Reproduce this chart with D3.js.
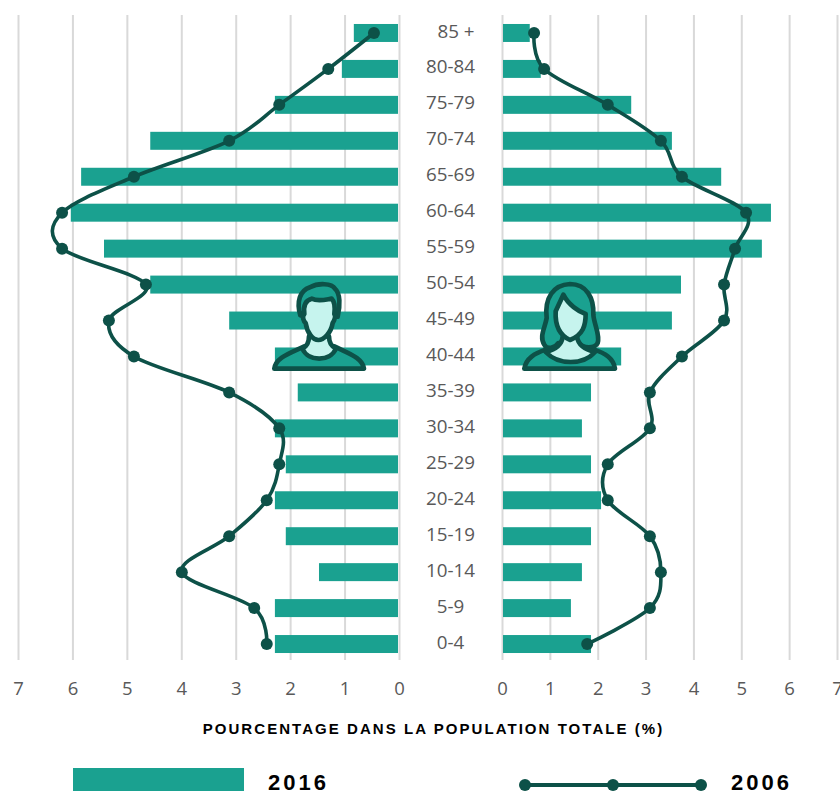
<!DOCTYPE html>
<html><head><meta charset="utf-8">
<script src="https://cdn.jsdelivr.net/npm/d3@7/dist/d3.min.js"></script>
<style>html,body{margin:0;padding:0;background:#fff;overflow:hidden}svg{display:block}text{font-family:"Open Sans","Noto Sans",sans-serif}</style>
</head><body><svg id="c" width="840" height="791"></svg>
<script>
const ages=["85 +","80-84","75-79","70-74","65-69","60-64","55-59","50-54","45-49","40-44","35-39","30-34","25-29","20-24","15-19","10-14","5-9","0-4"];
const men2016=[0.83,1.05,2.28,4.57,5.84,6.03,5.42,4.57,3.12,2.28,1.86,2.28,2.08,2.28,2.08,1.47,2.28,2.28];
const men2006=[0.46,1.30,2.20,3.12,4.87,6.19,6.19,4.65,5.33,4.87,3.12,2.20,2.20,2.43,3.12,3.99,2.66,2.43];
const women2016=[0.58,0.81,2.70,3.55,4.58,5.62,5.43,3.74,3.55,2.49,1.86,1.67,1.86,2.07,1.86,1.67,1.44,1.86];
const women2006=[0.67,0.88,2.21,3.32,3.76,5.10,4.87,4.64,4.64,3.76,3.09,3.09,2.21,2.21,3.09,3.32,3.09,1.78];
const ticks=[0,1,2,3,4,5,6,7];
const axisTitle="POURCENTAGE DANS LA POPULATION TOTALE (%)";
const legendLabels=["2016","2006"];

const BAR="#1aa190",LINE="#0d5148",GRID="#d9d9d9",LIGHT="#c6f4ee",TXT="#595959";
const svg=d3.select("#c");
const y=d3.scaleBand().domain(ages).range([15,662]).paddingInner(.5).paddingOuter(.25);
const yc=a=>y(a)+y.bandwidth()/2;
const xL=d3.scaleLinear().domain([0,7]).range([399,18]);
const xR=d3.scaleLinear().domain([0,7]).range([502,837]);

function axis(scale){
  const g=svg.append("g").attr("transform","translate(0,660)")
    .call(d3.axisBottom(scale).tickValues(ticks).tickSize(645).tickSizeOuter(0).tickFormat(d3.format("d")));
  g.select(".domain").remove();
  g.selectAll(".tick line").attr("y1",-645).attr("y2",0).attr("stroke",GRID).attr("stroke-width",2);
  g.selectAll(".tick text").attr("y",29).attr("dy",".32em").attr("fill",TXT).attr("font-size",18.5).attr("font-family",'"Open Sans",sans-serif');
}
axis(xL);axis(xR);

svg.append("g").selectAll("rect").data(ages).join("rect")
  .attr("x",(d,i)=>xL(men2016[i])).attr("y",d=>y(d)).attr("height",y.bandwidth())
  .attr("width",(d,i)=>xL(0)-1-xL(men2016[i])).attr("fill",BAR);
svg.append("g").selectAll("rect").data(ages).join("rect")
  .attr("x",xR(0)+1).attr("y",d=>y(d)).attr("height",y.bandwidth())
  .attr("width",(d,i)=>xR(women2016[i])-xR(0)-1).attr("fill",BAR);

svg.append("g").selectAll("text").data(ages).join("text")
  .attr("x",d=>d==="85 +"?456:450.5).attr("y",d=>yc(d)-2).attr("dy",".35em").attr("text-anchor","middle")
  .attr("fill",TXT).attr("font-size",18.8).text(d=>d);

function series(vals,scale){
  const line=d3.line().x(d=>scale(d[1])).y(d=>yc(d[0])).curve(d3.curveCatmullRom.alpha(0));
  const pts=ages.map((a,i)=>[a,vals[i]]);
  svg.append("path").attr("d",line(pts)).attr("fill","none").attr("stroke",LINE).attr("stroke-width",3.6);
  svg.append("g").selectAll("circle").data(pts).join("circle")
    .attr("cx",d=>scale(d[1])).attr("cy",d=>yc(d[0])).attr("r",6).attr("fill",LINE);
}

function icon(tx,paths){
  const g=svg.append("g").attr("transform",`translate(${tx},278) scale(${1/3})`)
    .attr("stroke",LINE).attr("stroke-width",14).attr("stroke-linejoin","round");
  paths.forEach(([d,f])=>g.append("path").attr("d",d).attr("fill",f));
}
icon(265,[
 ["M28,272C33,238 75,226 118,205L208,205C250,226 292,238 297,272Z",BAR],
 ["M112,212C125,206 132,196 132,175L192,175C192,196 200,206 213,212C195,252 130,252 112,212Z",LIGHT],
 ["M106,112C94,72 104,38 135,28C160,14 200,16 210,32C226,46 226,82 218,116C205,90 120,90 106,112Z",BAR],
 ["M118,108C114,78 124,66 140,62C160,72 185,64 200,62C210,72 210,92 208,108C214,116 206,130 203,135C198,165 176,186 160,186C144,186 126,165 122,135C116,130 110,116 118,108Z",LIGHT]
]);
icon(515,[
 ["M95,120C88,60 115,20 165,18C215,18 237,60 235,110C237,140 256,170 248,195C240,212 205,212 190,195L130,195C120,212 95,215 88,200C72,175 90,150 95,120Z",BAR],
 ["M28,272C33,240 60,226 92,215L238,215C270,226 295,240 300,272Z",BAR],
 ["M92,222C115,216 140,205 143,176L186,176C190,205 215,216 240,222C205,262 130,262 92,222Z",LIGHT],
 ["M122,100L145,50C160,80 190,100 212,108C212,142 205,170 165,186C130,170 120,140 122,100Z",LIGHT]
]);

series(men2006,xL);
series(women2006,xR);

svg.append("text").attr("x",433.5).attr("y",734).attr("text-anchor","middle")
  .style("font-family",'"Liberation Sans",sans-serif').attr("font-weight",700).attr("font-size",15)
  .attr("letter-spacing",2.05).attr("fill","#000").text(axisTitle);

svg.append("rect").attr("x",73).attr("y",768).attr("width",171).attr("height",23).attr("fill",BAR);
const lx=d3.scalePoint().domain([0,1,2]).range([525,701]);
svg.append("path").attr("d",d3.line().x(d=>lx(d)).y(785)([0,1,2])).attr("stroke",LINE).attr("stroke-width",4).attr("fill","none");
svg.append("g").selectAll("circle").data([0,1,2]).join("circle").attr("cx",d=>lx(d)).attr("cy",785).attr("r",6).attr("fill",LINE);
svg.selectAll(".lg").data(legendLabels).join("text").attr("class","lg")
  .attr("x",(d,i)=>i?731:268).attr("y",790)
  .style("font-family",'"Liberation Sans",sans-serif').attr("font-weight",700).attr("font-size",22)
  .attr("letter-spacing",3).attr("fill","#000").text(d=>d);
</script></body></html>
